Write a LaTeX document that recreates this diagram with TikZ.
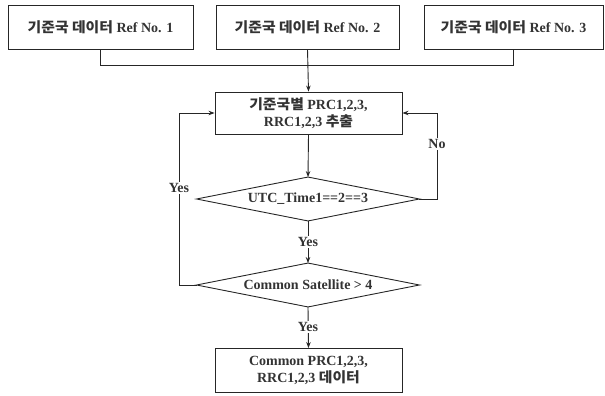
\documentclass[tikz,border=0pt]{standalone}
\usepackage{fontspec}
\setmainfont{Liberation Serif}
\newfontfamily\kr{Noto Sans CJK KR}
\usetikzlibrary{arrows.meta}
\newcommand{\K}[1]{{\kr\scalebox{1.06}[1.0]{#1}}}
\begin{document}
\begin{tikzpicture}[x=1pt,y=-1pt,
  font=\bfseries\fontsize{14}{16.5}\selectfont,
  line width=0.9pt, draw=black!85, text=black!80,
  box/.style={draw, rectangle, inner sep=0pt, align=center},
  dec/.style={rectangle, inner sep=0pt, minimum width=222pt, minimum height=43pt},
  lbl/.style={fill=white, inner sep=1.5pt},
  arr/.style={-{Stealth[length=6pt,width=4.5pt]}}]
\useasboundingbox (0,0) rectangle (605,396);
\node[box, minimum width=185pt, minimum height=44pt] (r1) at (100.5,27) {\K{기준국 데이터} Ref No. 1};
\node[box, minimum width=183pt, minimum height=44pt] (r2) at (307.5,27) {\K{기준국 데이터} Ref No. 2};
\node[box, minimum width=179pt, minimum height=44pt] (r3) at (513.5,27) {\K{기준국 데이터} Ref No. 3};
\node[box, minimum width=187pt, minimum height=42pt] (main) at (308.5,113) {\K{기준국별} PRC1,2,3,\\RRC1,2,3 \K{추출}};
\node[dec] (d1) at (308,199) {UTC\_Time1==2==3};
\node[dec] (d2) at (308,285) {Common Satellite > 4};
\node[box, minimum width=187pt, minimum height=44pt] (fin) at (308.5,370.5) {Common PRC1,2,3,\\RRC1,2,3 \K{데이터}};
\draw (d1.north) -- (d1.east) -- (d1.south) -- (d1.west) -- cycle;
\draw (d2.north) -- (d2.east) -- (d2.south) -- (d2.west) -- cycle;
\draw (r1.south) -- ++(0,16) -| (r3.south);
\draw[arr] (r2.south) -- (main.north);
\draw[arr] (main.south) -- (d1.north);
\draw[arr] (d1.south) -- (d2.north);
\draw[arr] (d2.south) -- (fin.north);
\coordinate (lc) at (179,285);
\coordinate (rc) at (437,199);
\draw[arr] (d2.west) -- (lc) |- (main.west);
\draw[arr] (d1.east) -- (rc) |- (main.east);
\node[lbl] (y1) at (179,188) {Yes};
\node[lbl] (n1) at (437,144) {No};
\node[lbl] (y2) at (308,242) {Yes};
\node[lbl] (y3) at (308,327) {Yes};
\end{tikzpicture}
\end{document}
